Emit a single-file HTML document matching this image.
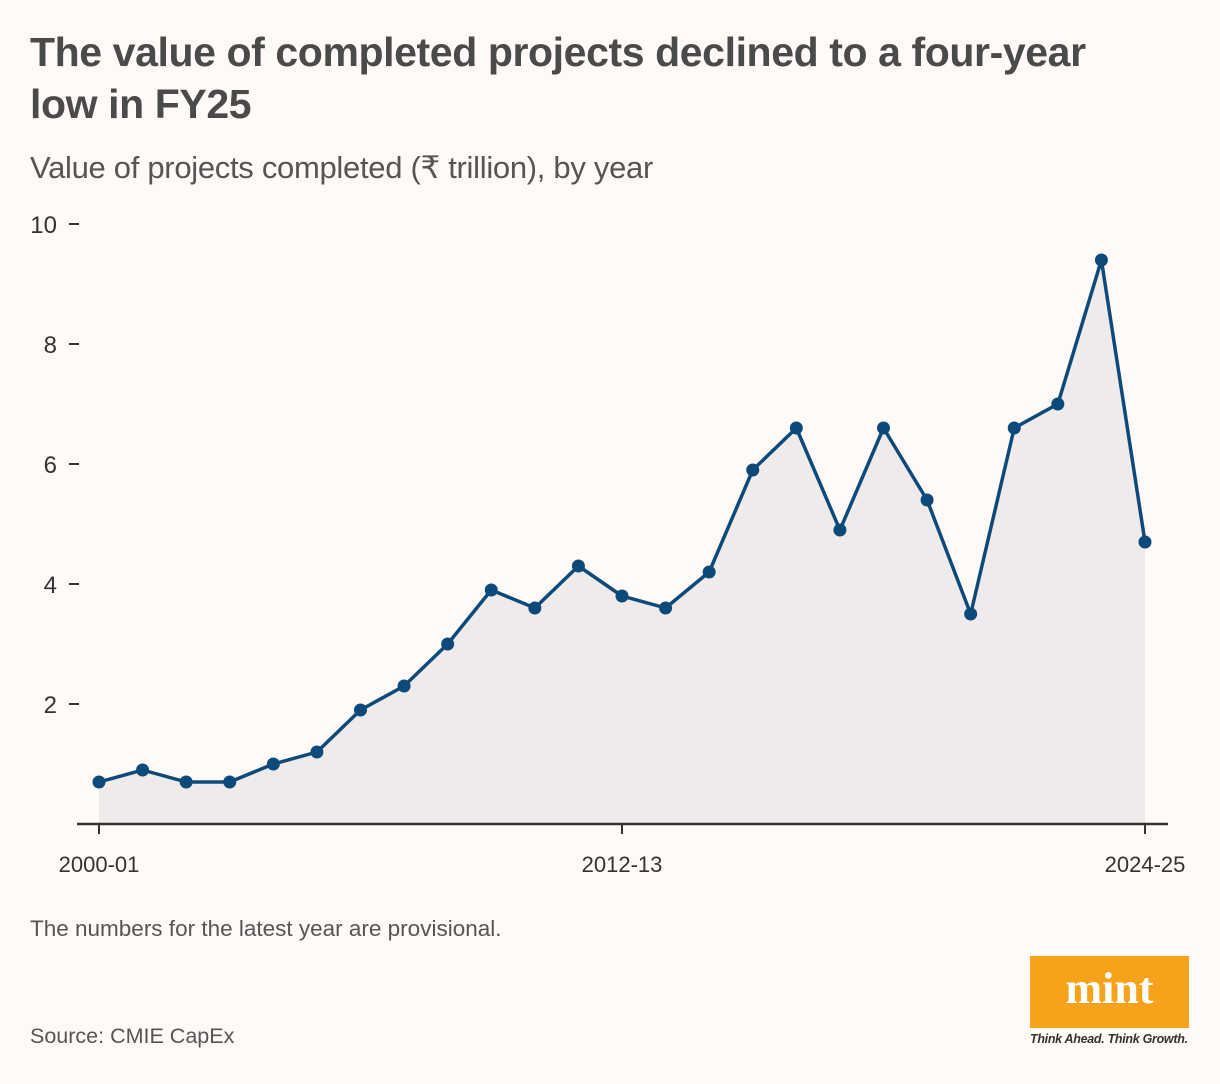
<!DOCTYPE html>
<html><head><meta charset="utf-8"><style>
body{margin:0;background:#fff9f8;width:1220px;height:1084px;overflow:hidden;font-family:"Liberation Sans",sans-serif;}
.t{position:absolute;left:30px;top:26px;font-size:41px;font-weight:bold;color:#4a4a4a;line-height:52px;letter-spacing:-0.4px;width:1110px}
.s{position:absolute;left:30px;top:150px;font-size:31px;color:#555;letter-spacing:-0.3px}
.n{position:absolute;left:30px;top:916px;font-size:22.5px;color:#555}
.src{position:absolute;left:30px;top:1024px;font-size:21.5px;color:#555}
</style></head><body>
<div class="t">The value of completed projects declined to a four-year low in FY25</div>
<div class="s">Value of projects completed (₹ trillion), by year</div>
<svg id="c" width="1220" height="1084" style="position:absolute;left:0;top:0"></svg>
<div class="n">The numbers for the latest year are provisional.</div>
<div class="src">Source: CMIE CapEx</div>
<div style="position:absolute;left:1030px;top:956px;width:159px;height:72px;background:#f7a21b;color:#fff;font-family:'Liberation Serif',serif;font-weight:bold;font-size:44px;text-align:center;line-height:66px">mint</div>
<div style="position:absolute;left:1030px;top:1032px;font-size:12.5px;font-style:italic;font-weight:bold;color:#333;letter-spacing:-0.3px">Think Ahead. Think Growth.</div>
<script>
const categories=["2000-01","2001-02","2002-03","2003-04","2004-05","2005-06","2006-07","2007-08","2008-09","2009-10","2010-11","2011-12","2012-13","2013-14","2014-15","2015-16","2016-17","2017-18","2018-19","2019-20","2020-21","2021-22","2022-23","2023-24","2024-25"];
const values=[0.7,0.9,0.7,0.7,1.0,1.2,1.9,2.3,3.0,3.9,3.6,4.3,3.8,3.6,4.2,5.9,6.6,4.9,6.6,5.4,3.5,6.6,7.0,9.4,4.7];
const yTicks=[2,4,6,8,10];
const xLabels=["2000-01","2012-13","2024-25"];
const svg=document.getElementById('c');const NS='http://www.w3.org/2000/svg';
const x=i=>99+i*(1145-99)/(categories.length-1);
const y=v=>824-v*60;
function mk(t,a,p){const e=document.createElementNS(NS,t);for(const k in a)e.setAttribute(k,a[k]);(p||svg).appendChild(e);return e;}
let d=values.map((v,i)=>(i?'L':'M')+x(i)+','+y(v)).join('');
const area=mk('path',{d:d+'L'+x(values.length-1)+','+y(0)+'L'+x(0)+','+y(0)+'Z',fill:'#eeebea'});


yTicks.forEach(t=>{
 const l=mk('line',{x1:69,x2:79,y1:y(t),y2:y(t),stroke:'#333','stroke-width':2});
 
 
 const tx=mk('text',{x:57,y:y(t)+9,'text-anchor':'end','font-size':24,fill:'#333'});tx.textContent=t;
 
 
});
const ax=mk('line',{x1:77,x2:1168,y1:824,y2:824,stroke:'#333','stroke-width':2.5});


xLabels.forEach(lab=>{const i=categories.indexOf(lab);
 const l=mk('line',{x1:x(i),x2:x(i),y1:824,y2:834,stroke:'#333','stroke-width':2});
 
 
 const tx=mk('text',{x:x(i),y:872,'text-anchor':'middle','font-size':22,fill:'#333'});tx.textContent=lab;
 
 
});
const ln=mk('path',{d:d,fill:'none',stroke:'#0d4a7a','stroke-width':3.5,'stroke-linejoin':'round'});


values.forEach((v,i)=>{const c=mk('circle',{cx:x(i),cy:y(v),r:6.5,fill:'#0d4a7a'});
 
 
});
</script>
</body></html>
